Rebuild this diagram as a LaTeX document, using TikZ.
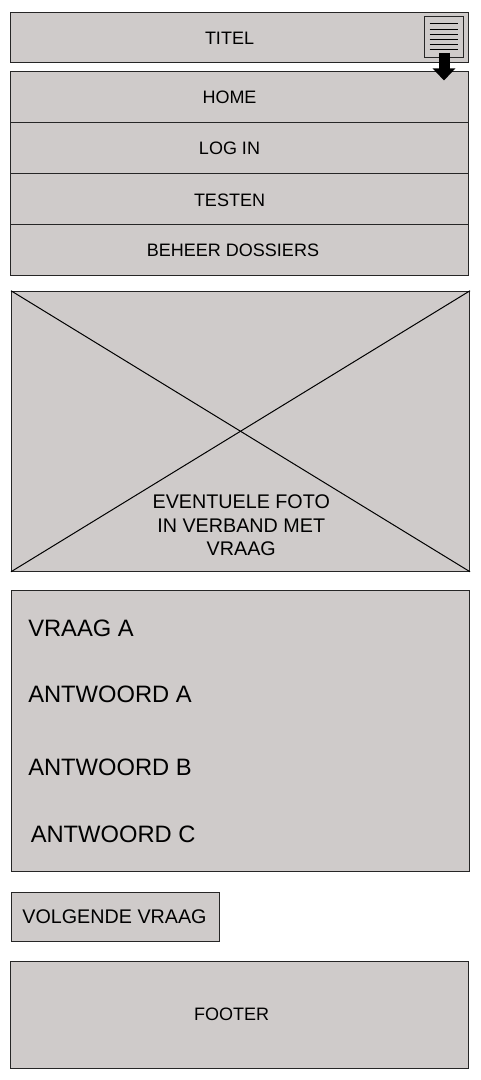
\documentclass[tikz,border=0pt]{standalone}
\usepackage{fontspec}
\setmainfont{Liberation Sans}
\usetikzlibrary{arrows.meta}

\tikzstyle{panel} = [draw=black!85, line width=.75pt, rectangle, fill=panelgray, inner sep=0pt]
\tikzstyle{inout} = [rectangle, inner sep=0pt, text=black]
\tikzstyle{menutext} = [inout, font=\fontsize{13.5pt}{16pt}\selectfont]
\tikzstyle{midtext} = [inout, font=\fontsize{14.8pt}{18pt}\selectfont]
\tikzstyle{bigtext} = [inout, anchor=west, font=\fontsize{17.8pt}{21pt}\selectfont]
\definecolor{panelgray}{RGB}{207,203,202}

\begin{document}
\begin{tikzpicture}[auto,node distance=1cm]
  \def\px{.75pt}
  \def\fw{458*\px}
  \useasboundingbox (0,0) rectangle (480*\px,-1080*\px);

  % top bar and menu
  \node [panel, minimum width=\fw, minimum height=50*\px] (titel) at (239.5*\px,-37.5*\px) {};
  \node [panel, minimum width=\fw, minimum height=51*\px, below of=titel, node distance=59.5*\px] (home) {};
  \node [panel, minimum width=\fw, minimum height=51*\px, below of=home, node distance=51*\px] (login) {};
  \node [panel, minimum width=\fw, minimum height=51*\px, below of=login, node distance=51*\px] (testen) {};
  \node [panel, minimum width=\fw, minimum height=51*\px, below of=testen, node distance=51*\px] (beheer) {};

  \node [menutext] (titel_t) at (229.5*\px,-38.5*\px) {TITEL};
  \node [menutext, below of=titel_t, node distance=59*\px] (home_t) {HOME};
  \node [menutext, below of=home_t, node distance=50.5*\px] (login_t) {LOG IN};
  \node [menutext, below of=login_t, node distance=52*\px] (testen_t) {TESTEN};
  \node [menutext, below of=testen_t, node distance=50.5*\px, xshift=3.5*\px] (beheer_t) {BEHEER DOSSIERS};

  % menu icon
  \node [draw=black!85, line width=.75pt, rectangle, fill=panelgray, minimum width=39.5*\px, minimum height=41*\px, inner sep=0pt] (icon) at (443.75*\px,-37*\px) {};
  \draw [line width=.75pt] ([xshift=6*\px,yshift=-8*\px]icon.north west) -- ++(28*\px,0);
  \draw [line width=.75pt] ([xshift=6*\px,yshift=-14*\px]icon.north west) -- ++(28*\px,0);
  \draw [line width=.75pt] ([xshift=6*\px,yshift=-19*\px]icon.north west) -- ++(28*\px,0);
  \draw [line width=.75pt] ([xshift=6*\px,yshift=-24*\px]icon.north west) -- ++(28*\px,0);
  \draw [line width=.75pt] ([xshift=6*\px,yshift=-29*\px]icon.north west) -- ++(28*\px,0);
  \draw [line width=.75pt] ([xshift=6*\px,yshift=-34*\px]icon.north west) -- ++(28*\px,0);

  \coordinate (pijl_t) at (444*\px,-53*\px);
  \coordinate (pijl_b) at (444*\px,-80.5*\px);
  \draw [-{Triangle[width=22*\px,length=12*\px]}, line width=11*\px, black] (pijl_t) -- (pijl_b);

  % photo
  \node [panel, minimum width=\fw, minimum height=280*\px] (foto) at (240.5*\px,-431.25*\px) {};
  \draw [line width=.75pt] (foto.north west) -- (foto.south east);
  \draw [line width=.75pt] (foto.south west) -- (foto.north east);
  \node [midtext, align=center, below of=foto, node distance=94*\px, xshift=.75*\px] (foto_t) {EVENTUELE FOTO\\[-.4pt]IN VERBAND MET\\[-.4pt]VRAAG};

  % question
  \node [panel, minimum width=\fw, minimum height=281*\px, below of=foto, node distance=299.5*\px] (vraag) {};
  \node [bigtext] (vraag_a) at (28*\px,-628*\px) {VRAAG A};
  \node [bigtext] (antw_a) at (28*\px,-694*\px) {ANTWOORD A};
  \node [bigtext] (antw_b) at (28*\px,-767*\px) {ANTWOORD B};
  \node [bigtext] (antw_c) at (30.5*\px,-834*\px) {ANTWOORD C};

  % button and footer
  \node [panel, minimum width=208*\px, minimum height=49*\px] (volgende) at (115.5*\px,-916.5*\px) {};
  \node [midtext] (volgende_t) at (114.5*\px,-916.5*\px) {VOLGENDE VRAAG};
  \node [panel, minimum width=\fw, minimum height=107*\px] (footer) at (239.5*\px,-1015*\px) {};
  \node [menutext] (footer_t) at (231.5*\px,-1014*\px) {FOOTER};
\end{tikzpicture}
\end{document}
